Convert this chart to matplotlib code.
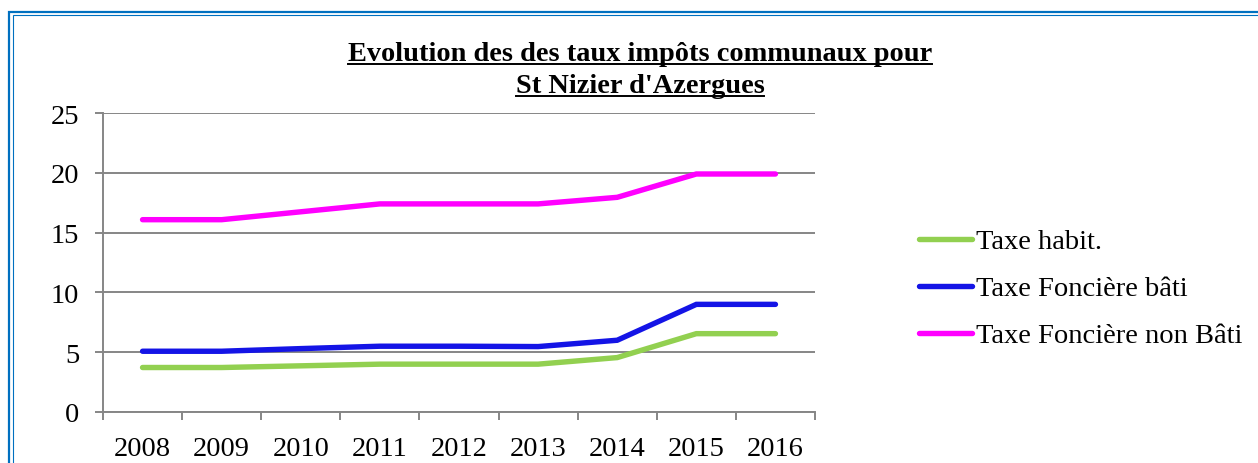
import matplotlib
matplotlib.use("Agg")
import matplotlib.pyplot as plt
from matplotlib.lines import Line2D
from matplotlib.patches import Rectangle

years = ["2008", "2009", "2010", "2011", "2012", "2013", "2014", "2015", "2016"]
taxe_habit = [3.72, 3.72, 3.86, 4.0, 4.0, 4.0, 4.55, 6.55, 6.55]
taxe_fonciere_bati = [5.08, 5.08, 5.3, 5.5, 5.5, 5.47, 6.0, 9.0, 9.0]
taxe_fonciere_non_bati = [16.08, 16.08, 16.74, 17.4, 17.4, 17.4, 17.95, 19.9, 19.9]
series_names = ["Taxe habit.", "Taxe Foncière bâti", "Taxe Foncière non Bâti"]
series_colors = ["#92D050", "#1414E6", "#FF00FF"]
yticks = [0, 5, 10, 15, 20, 25]
title_lines = ["Evolution des des taux impôts communaux pour", "St Nizier d'Azergues"]

W, H = 1258, 464
fig = plt.figure(figsize=(W / 100, H / 100), dpi=100)
fig.patch.set_facecolor("white")

def fx(px):
    return px / W

def fy(py):
    return 1 - py / H

ax = fig.add_axes([fx(103), fy(413), fx(815) - fx(103), fy(114) - fy(413)])
ax.set_facecolor("white")

grid_c = "#868686"
LW = 3.9
xs = list(range(len(years)))
for vals, name, col in zip([taxe_habit, taxe_fonciere_bati, taxe_fonciere_non_bati], series_names, series_colors):
    ax.plot(xs, vals, color=col, lw=LW, solid_capstyle="round", solid_joinstyle="miter", label=name, zorder=3)

ax.set_ylim(0, 25)
ax.set_xlim(-0.5, len(years) - 0.5)
ax.set_yticks(yticks)
ax.set_yticklabels([str(v) for v in yticks])
ax.yaxis.grid(True, color=grid_c, lw=1.4)
ax.set_axisbelow(True)

ax.set_xticks([i - 0.5 for i in range(len(years) + 1)])
ax.set_xticklabels([])
ax.set_xticks(xs, minor=True)
ax.set_xticklabels(years, minor=True)
ax.tick_params(axis="x", which="major", length=6, width=1.4, color=grid_c, direction="out")
ax.tick_params(axis="x", which="minor", length=0, pad=17)
ax.tick_params(axis="y", length=6, width=1.4, color=grid_c, direction="out", pad=11)

for s in ["top", "right"]:
    ax.spines[s].set_visible(False)
for s in ["left", "bottom"]:
    ax.spines[s].set_color(grid_c)
    ax.spines[s].set_linewidth(1.4)

tick_font = "Liberation Serif"
FS = 20.5
for lab in ax.get_yticklabels() + ax.get_xticklabels(minor=True):
    lab.set_fontfamily(tick_font)
    lab.set_fontsize(FS)
    lab.set_color("black")

leg = fig.legend(loc="center left", bbox_to_anchor=(fx(919), fy(289.5)), frameon=False,
                 prop={"family": tick_font, "size": FS}, handlelength=1.85,
                 handletextpad=0.15, labelspacing=0.74, borderpad=0, borderaxespad=0)
for h in leg.get_lines():
    h.set_linewidth(LW)
    h.set_solid_capstyle("round")

# Title
fig.canvas.draw()
renderer = fig.canvas.get_renderer()
t1 = fig.text(fx(640), fy(61), title_lines[0], ha="center", va="baseline",
              fontfamily="Liberation Serif", fontweight="bold", fontsize=15)
bb = t1.get_window_extent(renderer)
t1.set_fontsize(15 * 586 / bb.width)
fs = t1.get_fontsize()
t2 = fig.text(fx(640), fy(93), title_lines[1], ha="center", va="baseline",
              fontfamily="Liberation Serif", fontweight="bold", fontsize=fs)
fig.canvas.draw()
for t, uy in [(t1, 65), (t2, 97)]:
    b = t.get_window_extent(renderer)
    fig.add_artist(Line2D([b.x0 / W, b.x1 / W], [fy(uy), fy(uy)], color="black", lw=1.4,
                          transform=fig.transFigure))

# Double blue border
bc = "#0070C0"
fig.add_artist(Rectangle((fx(9), fy(H + 20)), fx(W + 40), fy(13) - fy(H + 20), fill=False,
                         edgecolor=bc, lw=1.6, transform=fig.transFigure))
fig.add_artist(Rectangle((fx(12.5), fy(H + 20)), fx(W + 40), fy(16) - fy(H + 20), fill=False,
                         edgecolor=bc, lw=0.8, transform=fig.transFigure))

fig.savefig("out.png", dpi=100, facecolor="white")
